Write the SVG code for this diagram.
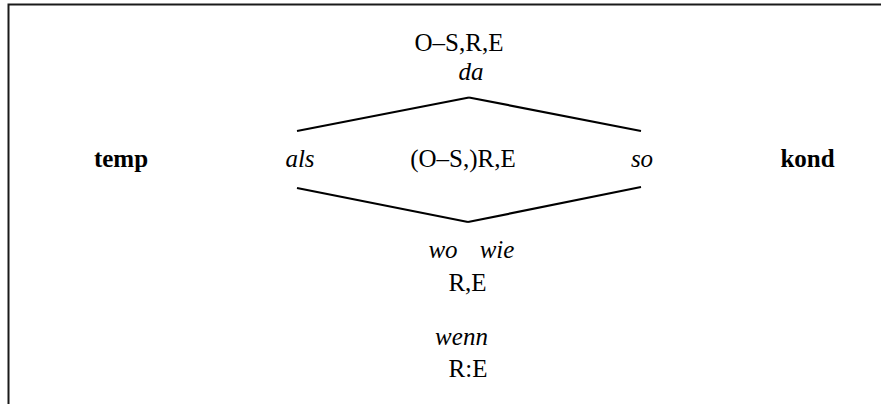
<svg xmlns="http://www.w3.org/2000/svg" width="881" height="404" viewBox="0 0 881 404">
<style>
text{font-family:"Liberation Serif","Times New Roman",serif;font-size:25px;fill:#000;text-anchor:middle}
.i{font-style:italic}
.b{font-weight:bold}
.ln{stroke:#000;stroke-width:2.2;fill:none;stroke-linecap:butt}
.frame{stroke:#1a1a1a;stroke-width:2;fill:none}
</style>
<rect width="881" height="404" fill="#fff"/>
<path class="frame" d="M8.5,404 V4.5 H881"/>
<g id="connectors">
<line class="ln" x1="297" y1="131" x2="469" y2="97.5"/>
<line class="ln" x1="469" y1="97.5" x2="641" y2="131"/>
<line class="ln" x1="297" y1="188" x2="468" y2="222"/>
<line class="ln" x1="468" y1="222" x2="641" y2="187"/>
</g>
<g id="top">
<text x="459" y="51">O–S,R,E</text>
<text class="i" x="471" y="80">da</text>
</g>
<g id="temp"><text class="b" x="121" y="167">temp</text></g>
<g id="als"><text class="i" x="300" y="167">als</text></g>
<g id="center"><text x="463" y="167">(O–S,)R,E</text></g>
<g id="so"><text class="i" x="642" y="167">so</text></g>
<g id="kond"><text class="b" x="807.5" y="167">kond</text></g>
<g id="bottom">
<text class="i" x="443" y="258">wo</text>
<text class="i" x="497" y="258">wie</text>
<text x="467.5" y="291">R,E</text>
</g>
<g id="wenn">
<text class="i" x="461.5" y="345">wenn</text>
<text x="468" y="377">R:E</text>
</g>
</svg>
